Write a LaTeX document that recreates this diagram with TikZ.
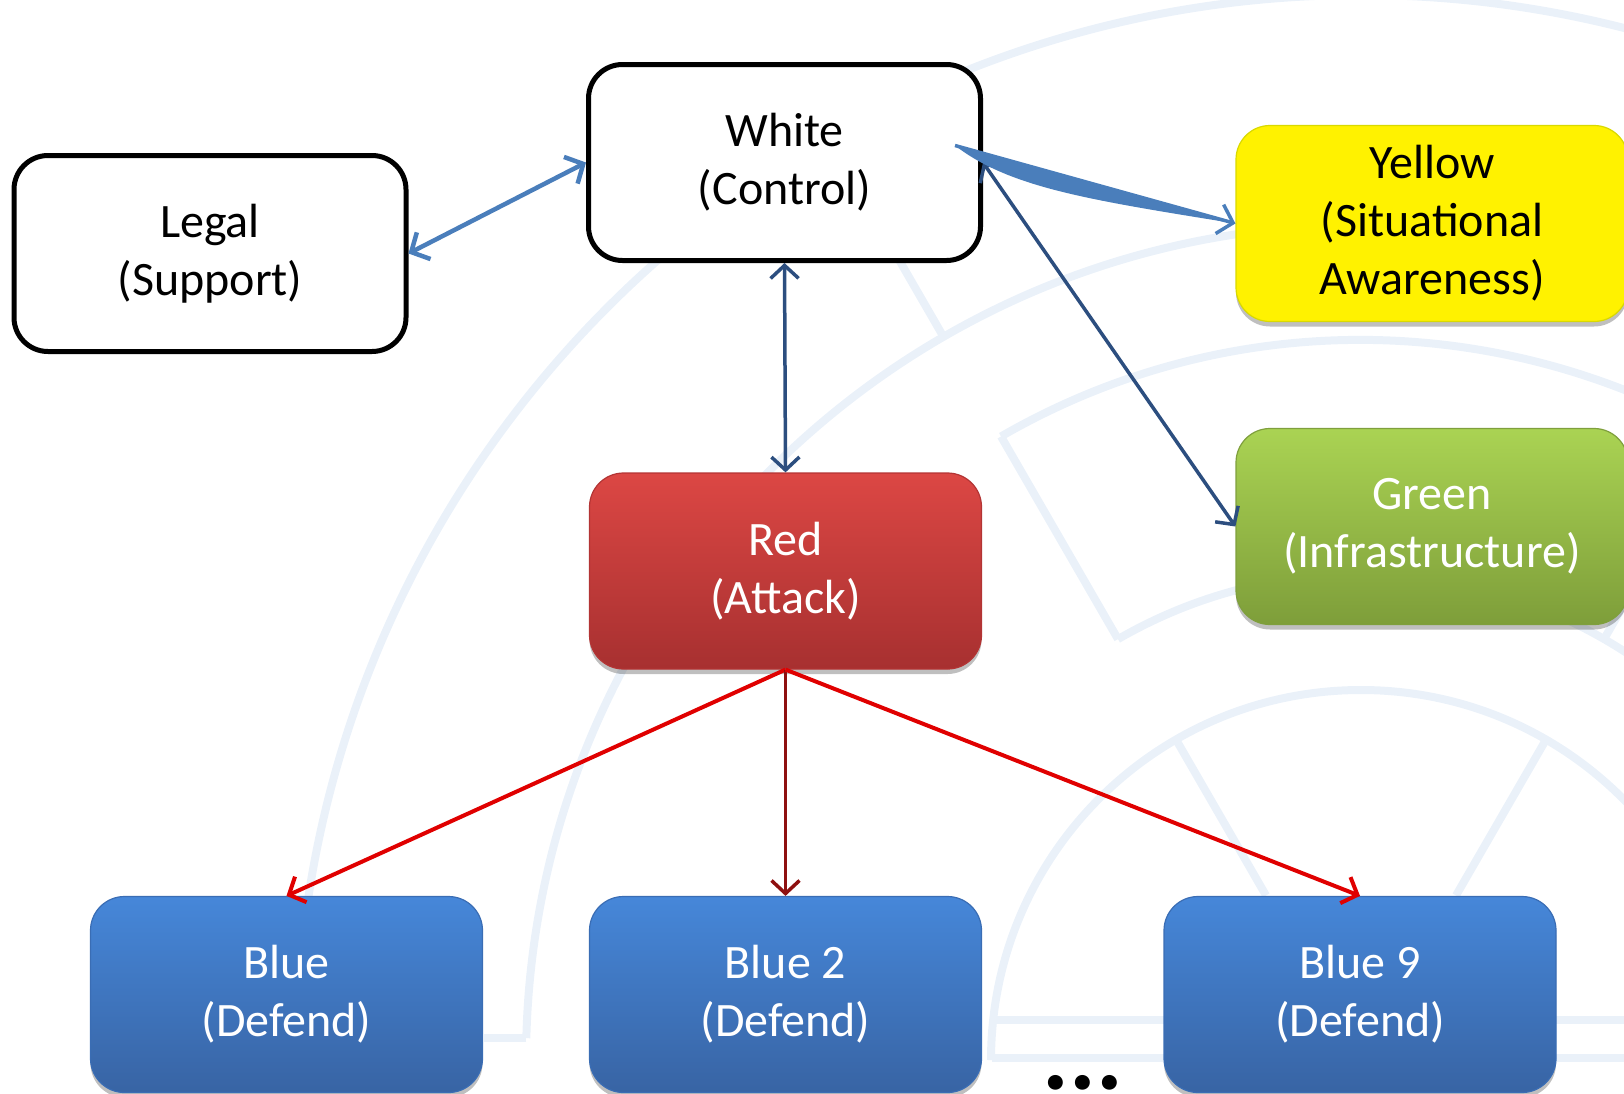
\documentclass[tikz,border=0pt]{standalone}
\usepackage{fontspec}
\setmainfont{Carlito}
\usetikzlibrary{arrows.meta}
\usetikzlibrary{shadows}
\usetikzlibrary{calc}

\definecolor{wmblue}{HTML}{EAF1F9}
\definecolor{linkblue}{HTML}{4A7EBB}
\definecolor{darklink}{HTML}{2C4E7F}
\definecolor{redtop}{HTML}{DC4744}
\definecolor{redbot}{HTML}{A73030}
\definecolor{redline}{HTML}{B33434}
\definecolor{bluetop}{HTML}{4687D9}
\definecolor{bluebot}{HTML}{3864A4}
\definecolor{blueline}{HTML}{3A6DB4}
\definecolor{greentop}{HTML}{AAD353}
\definecolor{greenbot}{HTML}{7E9E3A}
\definecolor{greenline}{HTML}{7F9F3D}
\definecolor{yellowline}{HTML}{D9D900}
\definecolor{attackred}{HTML}{E00000}
\definecolor{attackdark}{HTML}{8E1010}

\tikzset{
  team/.style={rounded corners=34pt, minimum width=392pt, minimum height=196pt,
    inner sep=0pt, align=center, font=\fontsize{48}{58}\selectfont},
  outlined/.style={team, draw=black, line width=5pt, fill=white},
  shaded/.style={team, line width=1.2pt,
    drop shadow={shadow xshift=0pt, shadow yshift=-5pt, opacity=0.25, fill=black}},
  linkboth/.style={{Straight Barb[length=14pt, width=30pt]}-{Straight Barb[length=14pt, width=30pt]},
    linkblue, line width=4.5pt},
  linkdark/.style={{Straight Barb[length=13pt, width=28pt]}-{Straight Barb[length=13pt, width=28pt]},
    darklink, line width=3.5pt},
  attackarrow/.style={-{Straight Barb[length=13pt, width=28pt]}, attackred, line width=4pt},
  wm/.style={wmblue, line width=8pt}
}

\begin{document}
\begin{tikzpicture}[x=1pt, y=-1pt]
    \useasboundingbox (0,0) rectangle (1624,1093);

    % faint seal in the background
    \coordinate (seal) at (1361,1060);
    \begin{scope}
    \clip (0,0) rectangle (1624,1093);
    \foreach \r/\a/\b in {1065/180/330, 835/181.5/330, 720/240/330, 486/240/330, 370/180/360}
        \draw[wm] ($(seal)+(\a:\r)$) arc[start angle=\a, end angle=\b, radius=\r];
    \foreach \t/\ri/\ro in {240/486/720, 240/835/1065, 240/190/370, 300/190/370, 300/486/720}
        \draw[wm] ($(seal)+(\t:\ri)$) -- ($(seal)+(\t:\ro)$);
    \draw[wm] ($(seal)+(181.5:835)$) -- ++(-42,0);
    \draw[wm] (992,1020) -- (1624,1020);
    \draw[wm] (992,1058) -- (1624,1058);
    \end{scope}

    % teams
    \node[outlined] (control) at (784.5,162.5) {White\\(Control)};
    \node[outlined] (legal) at (210,253.5) {Legal\\(Support)};
    \node[shaded, fill=yellow, draw=yellowline] (aware) at (1432,223.5) {Yellow\\(Situational\\Awareness)};
    \node[shaded, top color=greentop, bottom color=greenbot, draw=greenline, text=white] (infra) at (1432,526.5) {Green\\(Infrastructure)};
    \node[shaded, top color=redtop, bottom color=redbot, draw=redline, text=white] (attack) at (785.5,571) {Red\\(Attack)};
    \node[shaded, top color=bluetop, bottom color=bluebot, draw=blueline, text=white] (defend1) at (286.5,994.5) {Blue\\(Defend)};
    \node[shaded, top color=bluetop, bottom color=bluebot, draw=blueline, text=white] (defend2) at (785.5,994.5) {Blue 2\\(Defend)};
    \node[shaded, top color=bluetop, bottom color=bluebot, draw=blueline, text=white] (defend9) at (1360,994.5) {Blue 9\\(Defend)};
    \node[anchor=base, inner sep=0pt, text height=16pt, text depth=0pt,
        font=\fontsize{100}{100}\selectfont\bfseries] (more) at (1083,1089) {...};

    % links of the control cell
    \draw[linkboth] (legal.east) -- (control.west);
    \draw[linkdark] (control.south) -- (attack.north);
    \draw[linkdark] (control.east) -- (infra.west);
    \coordinate (tail) at ($(control.east)+(-28,-17)$);
    \fill[linkblue] (tail) -- (aware.west) .. controls (1090,200) and (1010,188) .. (tail) -- cycle;
    \draw[-{Straight Barb[length=14pt, width=30pt]}, linkblue, line width=3.5pt] (tail) -- (aware.west);

    % attacks
    \draw[attackarrow] (attack.south) -- (defend1.north);
    \draw[attackarrow, attackdark, line width=3.5pt] (attack.south) -- (defend2.north);
    \draw[attackarrow] (attack.south) -- (defend9.north);
\end{tikzpicture}
\end{document}
